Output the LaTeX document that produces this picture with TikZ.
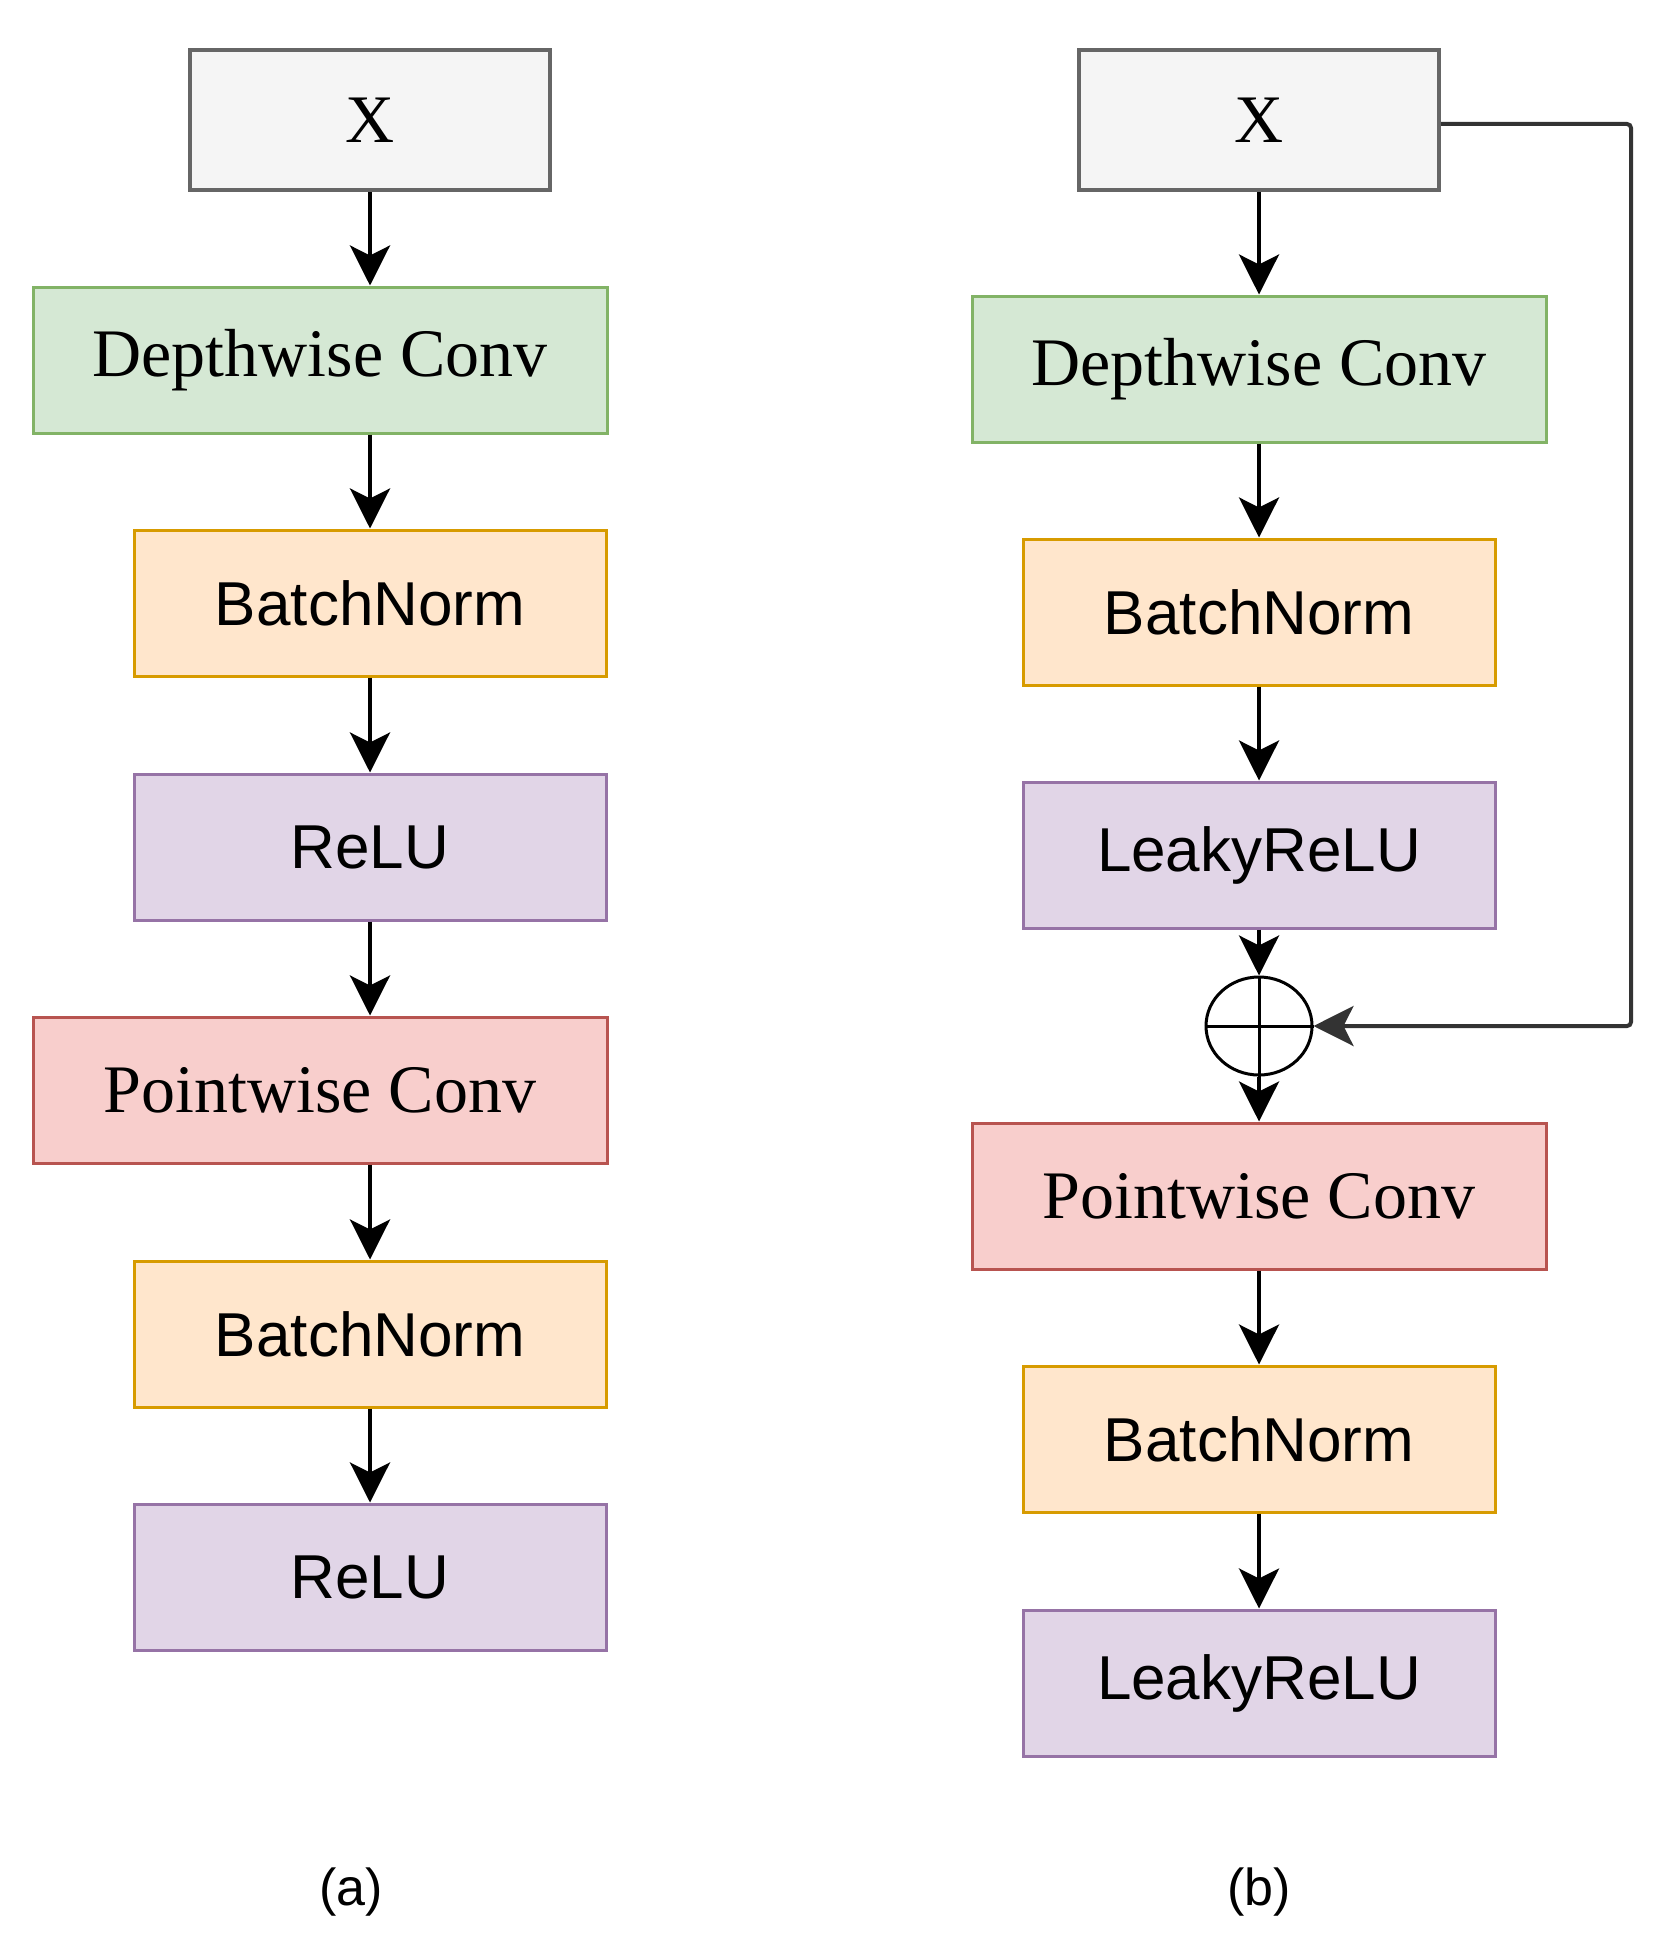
\documentclass[tikz,border=0pt]{standalone}
\usepackage{fontspec}
\setmainfont{Liberation Serif}
\setsansfont{Liberation Sans}
\usetikzlibrary{arrows.meta,shapes.geometric}

\definecolor{inpfill}{HTML}{F5F5F5}
\definecolor{inpdraw}{HTML}{666666}
\definecolor{dwfill}{HTML}{D5E8D4}
\definecolor{dwdraw}{HTML}{82B366}
\definecolor{bnfill}{HTML}{FFE6CC}
\definecolor{bndraw}{HTML}{D79B00}
\definecolor{actfill}{HTML}{E1D5E7}
\definecolor{actdraw}{HTML}{9673A6}
\definecolor{pwfill}{HTML}{F8CECC}
\definecolor{pwdraw}{HTML}{B85450}
\definecolor{linkdraw}{HTML}{333333}

\begin{document}
\begin{tikzpicture}[x=0.5pt,y=-0.5pt,
  blk/.style={draw,line width=1.5pt,inner sep=0pt,minimum height=73pt},
  serifbox/.style={blk,font=\fontsize{34}{40}\selectfont\rmfamily},
  sansbox/.style={blk,font=\fontsize{31}{36}\selectfont\sffamily,minimum width=236pt},
  inp/.style={serifbox,fill=inpfill,draw=inpdraw,line width=2pt,minimum width=180pt,minimum height=70pt},
  dw/.style={serifbox,fill=dwfill,draw=dwdraw,minimum width=287pt},
  pw/.style={serifbox,fill=pwfill,draw=pwdraw,minimum width=287pt},
  bn/.style={sansbox,fill=bnfill,draw=bndraw},
  act/.style={sansbox,fill=actfill,draw=actdraw},
  flow/.style={-{Stealth[length=20pt,width=20pt,inset=5pt]},line width=2pt},
  sublabel/.style={font=\fontsize{26}{30}\selectfont\sffamily}]
\useasboundingbox (0,0) rectangle (1663,1948);

% (a)
\node[inp] (xa) at (370,120) {X};
\node[dw] (dwa) at (320,360) {Depthwise Conv};
\node[bn] (bna1) at (370,603) {BatchNorm};
\node[act] (rla1) at (370,847) {ReLU};
\node[pw] (pwa) at (320,1090) {Pointwise Conv};
\node[bn] (bna2) at (370,1334) {BatchNorm};
\node[act] (rla2) at (370,1577) {ReLU};
\node[sublabel] (capa) at (351,1892) {(a)};

\draw[flow] (xa.south) -- (xa.south |- dwa.north);
\draw[flow] (rla1.north |- dwa.south) -- (bna1.north);
\draw[flow] (bna1.south) -- (rla1.north);
\draw[flow] (rla1.south) -- (rla1.south |- pwa.north);
\draw[flow] (rla1.south |- pwa.south) -- (bna2.north);
\draw[flow] (bna2.south) -- (rla2.north);

% (b)
\node[inp] (xb) at (1259,120) {X};
\node[dw] (dwb) at (1259,369) {Depthwise Conv};
\node[bn] (bnb1) at (1259,612) {BatchNorm};
\node[act] (rlb1) at (1259,855) {LeakyReLU};
\node[draw,ellipse,line width=1.5pt,minimum width=53pt,minimum height=49pt,inner sep=0pt] (add) at (1259,1026) {};
\node[pw] (pwb) at (1259,1196) {Pointwise Conv};
\node[bn] (bnb2) at (1259,1439) {BatchNorm};
\node[act] (rlb2) at (1259,1683) {LeakyReLU};
\node[sublabel] (capb) at (1259,1892) {(b)};
\coordinate (skip) at (1631,124);

\draw[line width=1.5pt] (add.north) -- (add.south) (add.west) -- (add.east);
\draw[flow] (xb.south) -- (dwb.north);
\draw[flow] (dwb.south) -- (bnb1.north);
\draw[flow] (bnb1.south) -- (rlb1.north);
\draw[flow] (rlb1.south) -- (add.north);
\draw[flow] (add.south) -- (pwb.north);
\draw[flow] (pwb.south) -- (bnb2.north);
\draw[flow] (bnb2.south) -- (rlb2.north);
\draw[flow,draw=linkdraw,rounded corners=2pt] (xb.east |- skip) -- (skip) |- (add.east);
\end{tikzpicture}
\end{document}
